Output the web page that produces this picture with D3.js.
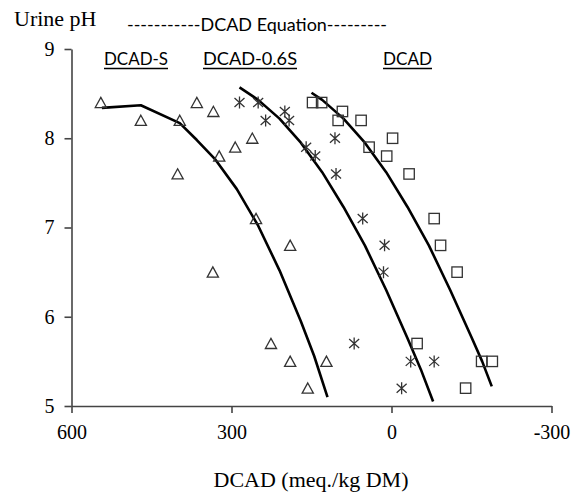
<!DOCTYPE html>
<html lang="en">
<head>
<meta charset="UTF-8">
<title>Urine pH vs DCAD</title>
<script src="https://cdn.jsdelivr.net/npm/d3@7"></script>
<style>
  body { margin: 0; background: #fff; }
</style>
</head>
<body>
<svg width="574" height="494" id="mainsvg"></svg>
<script>
const triX = [545, 470, 397, 401, 365, 334, 323, 335, 293, 261, 254, 190, 226, 190, 157, 122];
const triY = [8.4, 8.2, 8.2, 7.6, 8.4, 8.3, 7.8, 6.5, 7.9, 8.0, 7.1, 6.8, 5.7, 5.5, 5.2, 5.5];
const astX = [285, 250, 236, 200, 192, 160, 143, 106, 104, 54, 13, 15, 70, -36, -80, -19];
const astY = [8.4, 8.4, 8.2, 8.3, 8.2, 7.9, 7.8, 8.0, 7.6, 7.1, 6.8, 6.5, 5.7, 5.5, 5.5, 5.2];
const sqX = [148, 131, 92, 100, 57, 42, -2, 9, -33, -80, -92, -123, -48, -169, -189, -139];
const sqY = [8.4, 8.4, 8.3, 8.2, 8.2, 7.9, 8.0, 7.8, 7.6, 7.1, 6.8, 6.5, 5.7, 5.5, 5.5, 5.2];

// fitted curves (DCAD-S, DCAD-0.6S, DCAD)
const fitSX = [543, 470, 397, 365, 330, 290, 250, 210, 170, 145, 120];
const fitSY = [8.34, 8.37, 8.17, 7.98, 7.76, 7.43, 7.02, 6.52, 5.95, 5.56, 5.10];
const fit06X = [285, 250, 210, 170, 130, 90, 50, 10, -30, -55, -78];
const fit06Y = [8.57, 8.43, 8.22, 7.95, 7.62, 7.23, 6.80, 6.30, 5.76, 5.41, 5.05];
const fitDX = [150, 130, 90, 50, 10, -30, -70, -110, -150, -170, -188];
const fitDY = [8.51, 8.43, 8.22, 7.95, 7.62, 7.23, 6.80, 6.30, 5.77, 5.50, 5.22];

const xTicks = [600, 300, 0, -300];
const yTicks = [5, 6, 7, 8, 9];
const eqLabels = ['DCAD-S', 'DCAD-0.6S', 'DCAD'];

const svg = d3.select('#mainsvg');
const serif = '"Liberation Serif", "Times New Roman", serif';
const sans = 'Lato, "Liberation Sans", sans-serif';

const x = d3.scaleLinear().domain([600, -300]).range([71.5, 551.5]);
const y = d3.scaleLinear().domain([5, 9]).range([406, 49]);

// axes
const xAxis = d3.axisBottom(x).tickValues(xTicks).tickFormat(d => String(d))
    .tickSize(7).tickSizeOuter(0).tickPadding(12);
const gx = svg.append('g').attr('transform', 'translate(0,406)').call(xAxis);
const yAxis = d3.axisLeft(y).tickValues(yTicks).tickFormat(d => String(d))
    .tickSize(7).tickSizeOuter(0).tickPadding(10);
const gy = svg.append('g').attr('transform', 'translate(71.5,0)').call(yAxis);

[gx, gy].forEach(g => {
    g.attr('font-family', serif).attr('font-size', 20);
    g.select('.domain').attr('stroke', '#444').attr('stroke-width', 1.6);
    g.selectAll('.tick line').attr('stroke', '#444').attr('stroke-width', 1.6);
    g.selectAll('.tick text').attr('fill', '#000');
});

// curves
const line = d3.line().x(d => x(d[0])).y(d => y(d[1]));
[[fitSX, fitSY], [fit06X, fit06Y], [fitDX, fitDY]].forEach(([xs, ys]) => {
    svg.append('path')
        .datum(xs.map((v, i) => [v, ys[i]]))
        .attr('d', line)
        .attr('fill', 'none')
        .attr('stroke', '#000')
        .attr('stroke-width', 2.6)
        .attr('stroke-linejoin', 'round');
});

// markers
const mk = '#333';
svg.selectAll('.tri').data(triX.map((v, i) => [v, triY[i]])).enter()
    .append('path')
    .attr('d', 'M0,-5.2L5.6,5L-5.6,5Z')
    .attr('transform', d => `translate(${x(d[0])},${y(d[1])})`)
    .attr('fill', 'none').attr('stroke', mk).attr('stroke-width', 1.3);

svg.selectAll('.ast').data(astX.map((v, i) => [v, astY[i]])).enter()
    .append('path')
    .attr('d', 'M0,-6V6M-5,-4.5L5,4.5M-5,4.5L5,-4.5')
    .attr('transform', d => `translate(${x(d[0])},${y(d[1])})`)
    .attr('fill', 'none').attr('stroke', mk).attr('stroke-width', 1.3);

svg.selectAll('.sq').data(sqX.map((v, i) => [v, sqY[i]])).enter()
    .append('rect')
    .attr('x', d => x(d[0]) - 5.2).attr('y', d => y(d[1]) - 5.2)
    .attr('width', 10.4).attr('height', 10.4)
    .attr('fill', 'none').attr('stroke', mk).attr('stroke-width', 1.3);

// titles
svg.append('text').text('Urine pH')
    .attr('x', 14).attr('y', 26)
    .attr('font-family', serif).attr('font-size', 22);

svg.append('text').text('-----------DCAD Equation---------')
    .attr('x', 127).attr('y', 31)
    .attr('font-family', sans).attr('font-size', 18)
    .attr('textLength', 260).attr('lengthAdjust', 'spacingAndGlyphs');

const labPos = [[104, 64], [203, 94], [383, 49]];
eqLabels.forEach((t, i) => {
    const [lx, lw] = labPos[i];
    svg.append('text').text(t)
        .attr('x', lx).attr('y', 65)
        .attr('font-family', sans).attr('font-size', 18)
        .attr('textLength', lw).attr('lengthAdjust', 'spacingAndGlyphs');
    svg.append('line')
        .attr('x1', lx).attr('x2', lx + lw)
        .attr('y1', 68.5).attr('y2', 68.5)
        .attr('stroke', '#000').attr('stroke-width', 1.6);
});

svg.append('text').text('DCAD (meq./kg DM)')
    .attr('x', 311).attr('y', 487)
    .attr('text-anchor', 'middle')
    .attr('font-family', serif).attr('font-size', 22);
</script>
</body>
</html>
